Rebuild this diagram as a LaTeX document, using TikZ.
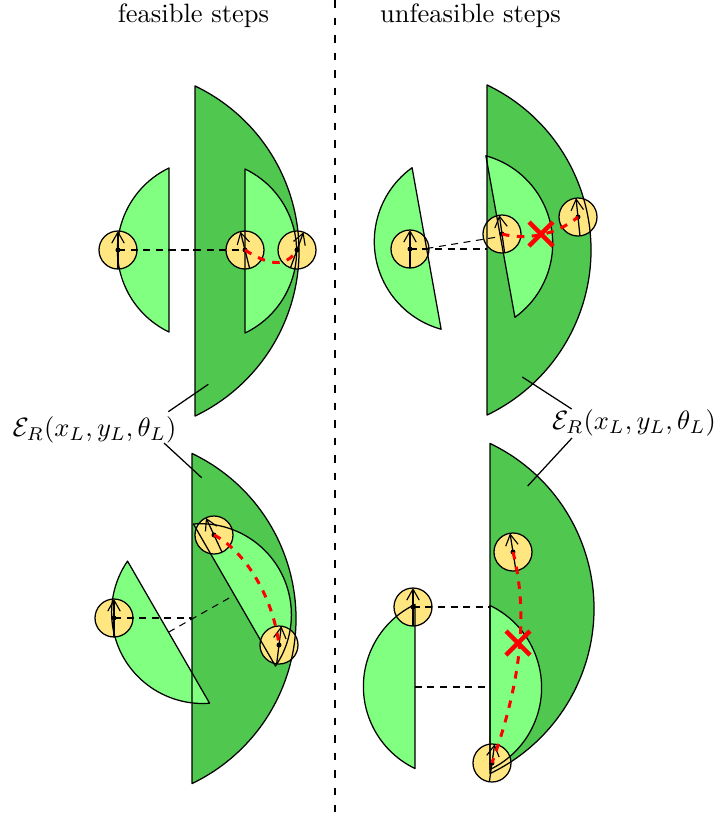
\documentclass[tikz,border=0pt]{standalone}
\usetikzlibrary{arrows.meta}
\definecolor{bigG}{RGB}{80,200,80}
\definecolor{lightG}{RGB}{128,255,128}
\definecolor{robotY}{RGB}{255,230,128}
\tikzset{
  x=0.4pt,y=0.4pt,
  outline/.style={draw=black,line width=0.5pt,line join=round},
  robot/.style={circle,draw=black,fill=robotY,line width=0.5pt,minimum size=15.2pt,inner sep=0pt},
  heading/.style={line width=0.5pt,-{Straight Barb[length=4.4pt,width=5pt,line width=0.45pt]}},
  blackdash/.style={line width=0.42pt,dash pattern=on 2.8pt off 2.2pt},
  reddash/.style={red,line width=1.2pt,dash pattern=on 3pt off 3pt},
  crossmark/.style={red,line width=1.8pt},
  dot/.style={fill=black,circle,inner sep=0pt,minimum size=2pt},
  leaderline/.style={line width=0.5pt},
  divider/.style={line width=1pt,dash pattern=on 3pt off 4pt},
  textlabel/.style={scale=1.06}
}
% sector: cx, cy, R, start angle, end angle, options
\newcommand{\sectorshape}[6]{\path[#6] ([shift={(#4:#3)}]#1,#2) arc[start angle=#4,end angle=#5,radius=#3] -- cycle;}
\newcommand{\robotnode}[3]{\node[robot] (#1) at (#2,#3) {};}
\newcommand{\robotmarks}[2]{%
  \draw[heading] ([shift={(#2+270:19)}]#1.center) -- ([shift={(#2+90:19)}]#1.center);
  \node[dot] (#1dot) at (#1.center) {};}
\newcommand{\crossat}[1]{%
  \draw[crossmark] ([shift={(-12,-12)}]#1) -- ([shift={(12,12)}]#1);
  \draw[crossmark] ([shift={(-12,12)}]#1) -- ([shift={(12,-12)}]#1);}
\newcommand{\allsectors}[1]{%
  \sectorshape{116}{-251}{183}{64.4}{-64.4}{#1,bigfill}
  \sectorshape{408}{-250}{183}{64.4}{-64.4}{#1,bigfill}
  \sectorshape{113}{-618.5}{183}{64.4}{-64.4}{#1,bigfill}
  \sectorshape{411}{-608.5}{183}{64.4}{-64.4}{#1,bigfill}
  \sectorshape{208.4}{-250}{91}{115.6}{244.4}{#1,lightfill}
  \sectorshape{205.6}{-251}{91}{64.4}{-64.4}{#1,lightfill}
  \sectorshape{465.3}{-241.5}{91}{125.8}{254.6}{#1,lightfill}
  \sectorshape{461.7}{-243.5}{91}{74.6}{-54.2}{#1,lightfill}
  \sectorshape{202.6}{-612.5}{91}{145.6}{274.4}{#1,lightfill}
  \sectorshape{200.4}{-614.7}{91}{94.4}{-34.4}{#1,lightfill}
  \sectorshape{454.4}{-686.5}{91}{115.6}{244.4}{#1,lightfill}
  \sectorshape{450.6}{-687.5}{91}{64.4}{-64.4}{#1,lightfill}
}
\begin{document}
\begin{tikzpicture}
\useasboundingbox (0,0) rectangle (716,-816);
% fills
\tikzset{bigfill/.style={fill=bigG},lightfill/.style={fill=lightG}}
\allsectors{draw=none}
% headings text
\node[textlabel,anchor=base] (t1) at (193.5,-22) {feasible steps};
\node[textlabel,anchor=base] (t2) at (470.5,-22) {unfeasible steps};
% divider
\coordinate (dtop) at (335,0);
\coordinate (dbot) at (335,-812);
\draw[divider] (dtop) -- (dbot);
% robots
\robotnode{a1}{118}{-250}
\robotnode{a2}{245}{-250}
\robotnode{a3}{297}{-250}
\robotnode{b1}{410}{-249}
\robotnode{b2}{502}{-234}
\robotnode{b3}{578}{-217}
\robotnode{c1}{114}{-618}
\robotnode{c2}{214}{-535}
\robotnode{c3}{279}{-645}
\robotnode{d1}{413}{-607}
\robotnode{d2}{513}{-552}
\robotnode{d3}{492}{-763}
% outlines above the robots
\tikzset{bigfill/.style={},lightfill/.style={}}
\allsectors{outline}
% chord midpoints
\coordinate (a4) at (195,-250);
\coordinate (a5) at (169,-250);
\coordinate (b4) at (487,-249);
\coordinate (b5) at (426.5,-248.5);
\coordinate (b6) at (500.5,-236.5);
\coordinate (c4) at (192,-618);
\coordinate (c5) at (168.5,-632.2);
\coordinate (c6) at (234.5,-595);
\coordinate (d4) at (490,-607);
\coordinate (d5) at (415,-687);
\coordinate (d6) at (490,-687);
\draw[blackdash] (a1.center) -- (a4);
\draw[blackdash] (a5) -- (a2.center);
\draw[blackdash] (b1.center) -- (b4);
\draw[blackdash] (b5) -- (b6);
\draw[blackdash] (c1.center) -- (c4);
\draw[blackdash] (c5) -- (c6);
\draw[blackdash] (d1.center) -- (d4);
\draw[blackdash] (d5) -- (d6);
% headings of the robots
\robotmarks{a1}{0}
\robotmarks{a2}{14}
\robotmarks{a3}{-20}
\robotmarks{b1}{0}
\robotmarks{b2}{8}
\robotmarks{b3}{6}
\robotmarks{c1}{0}
\robotmarks{c2}{25}
\robotmarks{c3}{-7}
\robotmarks{d1}{0}
\robotmarks{d2}{9}
\robotmarks{d3}{-8}
% red paths
\draw[reddash] (a2.center) .. controls (265,-263) and (285,-270) .. (a3.center);
\draw[reddash] (b2.center) .. controls (525,-240) and (555,-236) .. (b3.center);
\draw[reddash] (c2.center) .. controls (240,-548) and (272,-590) .. (c3.center);
\draw[reddash] (d2.center) .. controls (530,-620) and (518,-690) .. (d3.center);
\coordinate (x1) at (541,-234);
\coordinate (x2) at (518,-643);
\crossat{x1}
\crossat{x2}
% labels
\node[textlabel] (labL) at (94.5,-430) {$\mathcal{E}_R(x_L,y_L,\theta_L)$};
\node[textlabel] (labR) at (634,-423) {$\mathcal{E}_R(x_L,y_L,\theta_L)$};
\coordinate (l1s) at (168.3,-411.7);
\coordinate (l1e) at (208.3,-384.3);
\coordinate (l2s) at (164,-443);
\coordinate (l2e) at (201.7,-477.7);
\coordinate (r1s) at (571.7,-409);
\coordinate (r1e) at (522.3,-377);
\coordinate (r2s) at (572,-438);
\coordinate (r2e) at (527.7,-486);
\draw[leaderline] (l1s) -- (l1e);
\draw[leaderline] (l2s) -- (l2e);
\draw[leaderline] (r1s) -- (r1e);
\draw[leaderline] (r2s) -- (r2e);
\end{tikzpicture}
\end{document}
